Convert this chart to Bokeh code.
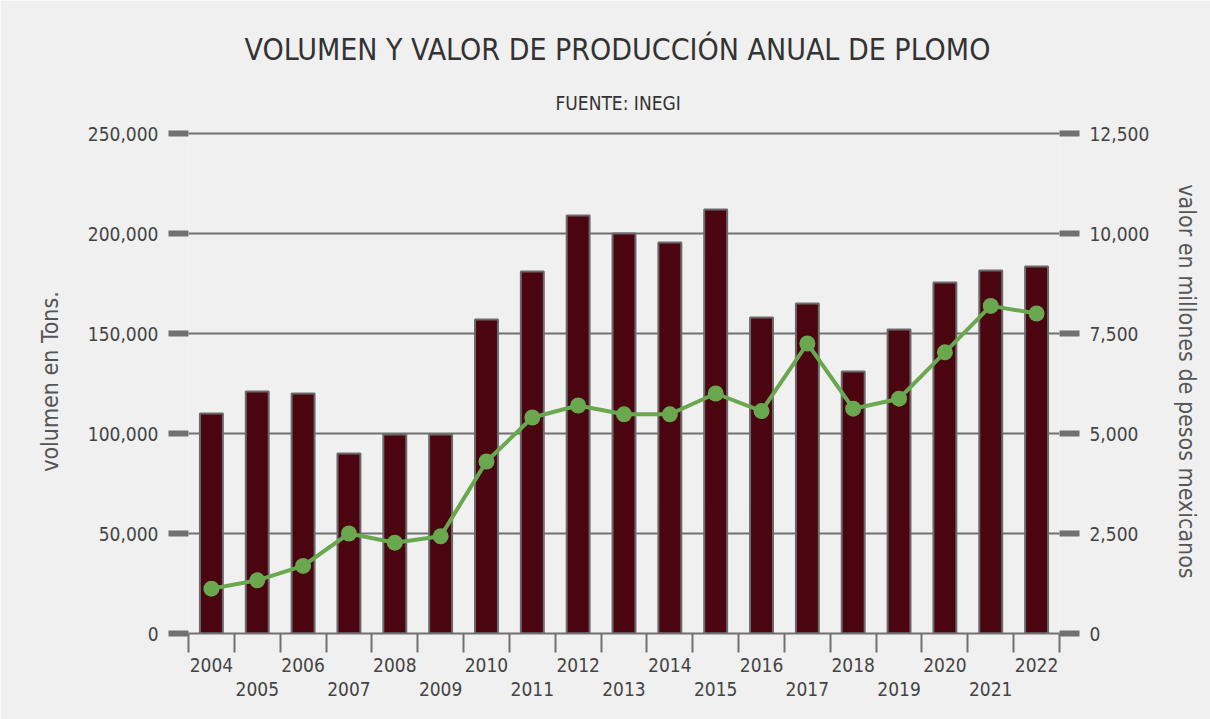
from bokeh.plotting import figure
from bokeh.models import (Range1d, LinearAxis, FixedTicker, NumeralTickFormatter,
                          Title, ColumnDataSource)
from bokeh.embed import file_html
from bokeh.resources import INLINE

# ---------------- data ----------------
years = [2004, 2005, 2006, 2007, 2008, 2009, 2010, 2011, 2012, 2013,
         2014, 2015, 2016, 2017, 2018, 2019, 2020, 2021, 2022]
volumen_tons = [110000, 121000, 120000, 90000, 99500, 99500, 157000, 181000, 209000, 200000,
                195500, 212000, 158000, 165000, 131000, 152000, 175500, 181500, 183500]
valor_mdp = [1120, 1330, 1690, 2500, 2270, 2430, 4300, 5400, 5700, 5480,
             5480, 6000, 5560, 7250, 5620, 5870, 7030, 8190, 8000]
left_ticks = [0, 50000, 100000, 150000, 200000, 250000]
right_ticks = [0, 2500, 5000, 7500, 10000, 12500]
title_text = "VOLUMEN Y VALOR DE PRODUCCIÓN ANUAL DE PLOMO"
subtitle_text = "FUENTE: INEGI"
left_title = "volumen en Tons."
right_title = "valor en millones de pesos mexicanos"

# ---------------- style ----------------
FONT = "DejaVu Sans Condensed"
BG = "#f0f0f0"
GRAY = "#707070"
TXT = "#444444"
BAR = "#4a0511"
GREEN = "#6aa84f"

p = figure(width=1210, height=719,
           x_range=Range1d(years[0] - 0.5, years[-1] + 0.5),
           y_range=Range1d(0, 252000),
           output_backend="svg", toolbar_location=None,
           min_border_left=188, min_border_right=151,
           min_border_top=129, min_border_bottom=86,
           background_fill_color=BG, border_fill_color=BG,
           outline_line_color=None)
p.title = None
p.extra_y_ranges = {"valor": Range1d(0, 12600)}

# left axis
ax = p.yaxis[0]
ax.ticker = FixedTicker(ticks=left_ticks, minor_ticks=[])
ax.formatter = NumeralTickFormatter(format="0,0")
ax.axis_line_color = None
ax.major_tick_out = 20
ax.major_tick_in = 0
ax.major_tick_line_width = 6
ax.major_tick_line_color = GRAY
ax.minor_tick_line_color = None
ax.major_label_standoff = 10
ax.major_label_text_font = FONT
ax.major_label_text_font_size = "19px"
ax.major_label_text_color = TXT
ax.axis_label = left_title
ax.axis_label_text_font = FONT
ax.axis_label_text_font_size = "23px"
ax.axis_label_text_font_style = "normal"
ax.axis_label_text_color = "#555555"
ax.axis_label_standoff = 22

# right axis
rax = LinearAxis(y_range_name="valor",
                 ticker=FixedTicker(ticks=right_ticks, minor_ticks=[]),
                 formatter=NumeralTickFormatter(format="0,0"))
rax.axis_line_color = None
rax.major_tick_out = 20
rax.major_tick_in = 0
rax.major_tick_line_width = 6
rax.major_tick_line_color = GRAY
rax.minor_tick_line_color = None
rax.major_label_standoff = 10
rax.major_label_text_font = FONT
rax.major_label_text_font_size = "19px"
rax.major_label_text_color = TXT
rax.axis_label = right_title
rax.axis_label_text_font = FONT
rax.axis_label_text_font_size = "23px"
rax.axis_label_text_font_style = "normal"
rax.axis_label_text_color = "#555555"
rax.axis_label_standoff = 22
p.add_layout(rax, "right")

# grid
p.ygrid.ticker = FixedTicker(ticks=left_ticks, minor_ticks=[])
p.ygrid.grid_line_color = GRAY
p.ygrid.grid_line_width = 2
p.xgrid.grid_line_color = None

# x axes (staggered labels)
overrides = {y: str(y) for y in years}
boundaries = [y - 0.5 for y in years] + [years[-1] + 0.5]
xa = p.xaxis[0]
xa.ticker = FixedTicker(ticks=years[0::2], minor_ticks=boundaries)
xa.major_label_overrides = overrides
xa.axis_line_color = GRAY
xa.axis_line_width = 2
xa.major_tick_out = 19
xa.major_tick_in = 0
xa.major_tick_line_color = None
xa.minor_tick_out = 19
xa.minor_tick_in = 0
xa.minor_tick_line_color = GRAY
xa.minor_tick_line_width = 2
xa.major_label_standoff = 5
xa.major_label_text_font = FONT
xa.major_label_text_font_size = "19px"
xa.major_label_text_color = TXT

xb = LinearAxis(ticker=FixedTicker(ticks=years[1::2], minor_ticks=[]))
xb.major_label_overrides = overrides
xb.axis_line_color = None
xb.major_tick_line_color = None
xb.major_tick_out = 0
xb.major_tick_in = 0
xb.minor_tick_line_color = None
xb.major_label_standoff = 7
xb.major_label_text_font = FONT
xb.major_label_text_font_size = "19px"
xb.major_label_text_color = TXT
p.add_layout(xb, "below")

# glyphs
src = ColumnDataSource(dict(year=years, volumen=volumen_tons, valor=valor_mdp))
p.vbar(x="year", top="volumen", bottom=0, width=0.5, source=src,
       fill_color=BAR, line_color="#6a6a6a", line_width=2)
p.line(x="year", y="valor", y_range_name="valor", source=src,
       line_color=GREEN, line_width=4)
p.scatter(x="year", y="valor", y_range_name="valor", source=src,
          size=16, fill_color=GREEN, line_color=None)

# titles (subtitle first => nearest the plot)
p.add_layout(Title(text=subtitle_text, align="left", offset=367,
                   standoff=31, text_font=FONT, text_font_size="19px",
                   text_font_style="normal", text_color="#333333"), "above")
p.add_layout(Title(text=title_text, align="left", offset=56,
                   standoff=16, text_font=FONT, text_font_size="30px",
                   text_font_style="normal", text_color="#333333"), "above")

open("out.html", "w").write(file_html(p, INLINE))
